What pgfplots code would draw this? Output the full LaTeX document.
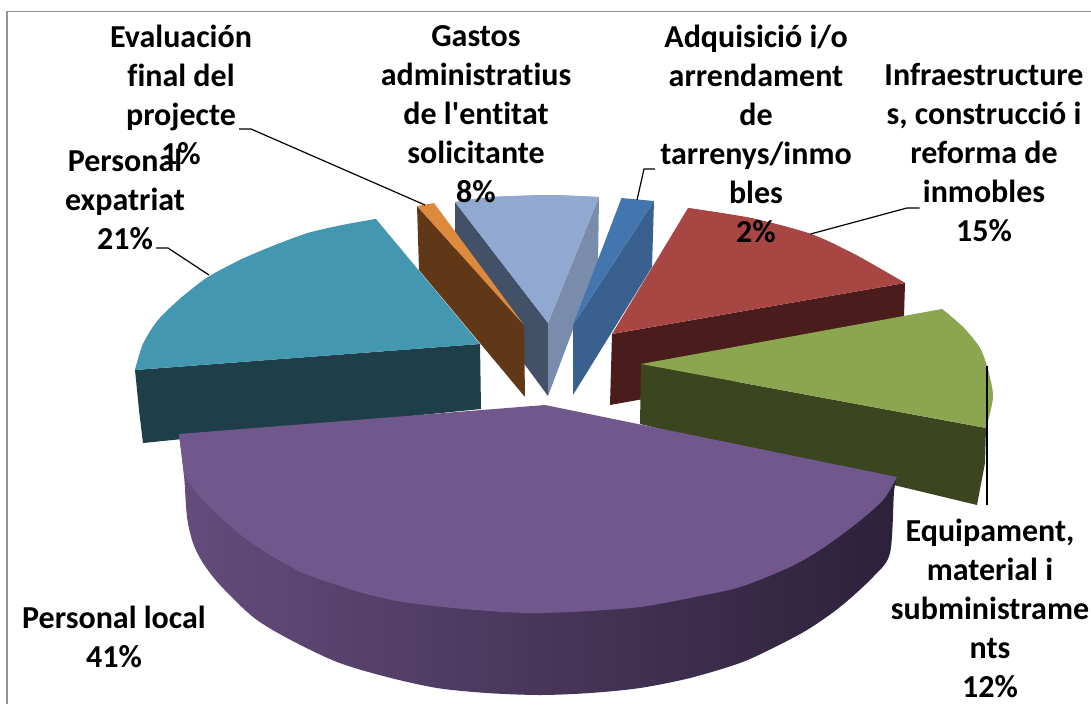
\documentclass[border=0pt]{standalone}
\usepackage{fontspec}
\newfontfamily\lblfont{Carlito}[Ligatures=NoCommon]
\usepackage{pgfplots}
\pgfplotsset{compat=1.18}
\definecolor{tealtop}{HTML}{4397B0}
\definecolor{tealside}{HTML}{1E3E4A}
\definecolor{ortop}{HTML}{DE8A3C}
\definecolor{orside}{HTML}{603817}
\definecolor{gatop}{HTML}{91A8D0}
\definecolor{gadark}{HTML}{425068}
\definecolor{galight}{HTML}{7A8CAC}
\definecolor{bltop}{HTML}{4376AE}
\definecolor{blside}{HTML}{3A6090}
\definecolor{retop}{HTML}{A84644}
\definecolor{reside}{HTML}{4B1C1C}
\definecolor{grtop}{HTML}{8BA64F}
\definecolor{grside}{HTML}{3B451F}
\definecolor{putop}{HTML}{70578C}
\definecolor{puleft}{HTML}{644C7C}
\definecolor{pumid}{HTML}{44325A}
\definecolor{puright}{HTML}{2C2139}
\tikzset{lbl/.style={font=\lblfont\fontsize{32}{39}\selectfont\bfseries,align=center,inner sep=0pt,text=black}}
\begin{document}
\begin{tikzpicture}
\useasboundingbox (0,0) rectangle (1091pt,704pt);
\begin{axis}[scale only axis,width=1091pt,height=704pt,xmin=0,xmax=1091,ymin=0,ymax=704,y dir=reverse,axis lines=none,clip=true]
% chart frame
\addplot[draw=gray!85!white,line width=1.3pt] coordinates {(7,704) (7,11.5) (1091,11.5)};
% Gastos administratius
\addplot[fill=gadark,draw=none] coordinates {(455,202) (548,323) (548,396) (455,270)} -- cycle;
\addplot[fill=galight,draw=none] coordinates {(599,197) (598,263) (548,396) (548,323)} -- cycle;
\addplot[fill=gatop,draw=none] coordinates {(455,202) (491,197) (550,195) (599,197) (548,323)} -- cycle;
\addplot[fill=gatop,draw=none,smooth] coordinates {(455,202) (491,197) (550,195) (599,197)} -- cycle;
% Adquisicio
\addplot[fill=blside,draw=none] coordinates {(654,201) (652,267) (573,395) (573,325)} -- cycle;
\addplot[fill=bltop,draw=none] coordinates {(621.5,198) (654,201) (573,325)} -- cycle;
% Personal expatriat
\addplot[fill=tealside,draw=none] coordinates {(135,370) (480,344) (481,409) (143,443) (139,410)} -- cycle;
\addplot[fill=tealtop,draw=none] coordinates {(376,219) (480,344) (135,370) (143,344) (182,297) (242,259) (308,233)} -- cycle;
\addplot[fill=tealtop,draw=none,smooth] coordinates {(376,219) (342,225) (308,233) (275,245) (242,259) (208,277) (182,297) (158,320) (143,344) (135,370)} -- cycle;
% Evaluacion
\addplot[fill=orside,draw=none] coordinates {(417,206) (524,325) (525,397) (419,270)} -- cycle;
\addplot[fill=ortop,draw=none] coordinates {(417,206) (434,203) (524,325)} -- cycle;
% Infraestructures
\addplot[fill=reside,draw=none] coordinates {(612,334) (905,283) (903,350) (638,400) (610,405)} -- cycle;
\addplot[fill=retop,draw=none] coordinates {(688,208) (751,218) (811,234) (856,255) (905,283) (612,334)} -- cycle;
\addplot[fill=retop,draw=none,smooth] coordinates {(688,208) (751,218) (811,234) (856,255) (905,283)} -- cycle;
% Equipament
\addplot[fill=grside,draw=none] coordinates {(641,364) (986,428) (985,463) (977,505) (640,424)} -- cycle;
\addplot[fill=grtop,draw=none] coordinates {(942,309) (963,327) (980,348) (988,370) (993,397) (986,428) (641,364)} -- cycle;
\addplot[fill=grtop,draw=none,smooth] coordinates {(942,309) (963,327) (980,348) (988,370) (993,397) (986,428)} -- cycle;
% Personal local
\addplot[left color=puleft,middle color=pumid,right color=puright,draw=none,smooth] coordinates {(179,434) (184,475) (187,517) (193,543) (203,563) (220,585) (253,617) (287,638) (337,662) (387,677) (437,688) (487,693) (540,695) (590,693) (640,688) (690,678) (740,663) (773,648) (807,630) (840,607) (873,577) (890,553) (894,492) (897,477)} -- cycle;
\addplot[fill=putop,draw=none] coordinates {(545,405) (897,477) (857,523) (790,567) (690,598) (540,613) (403,602) (303,573) (237,532) (203,500) (184,475) (179,434)} -- cycle;
\addplot[fill=putop,draw=none,smooth] coordinates {(897,477) (883,500) (857,523) (823,548) (790,567) (740,587) (690,598) (640,607) (590,611) (540,613) (503,612) (453,608) (403,602) (370,595) (337,585) (303,573) (270,555) (237,532) (203,500) (184,475)} -- cycle;
% leader lines
\addplot[draw=black,line width=1.2pt] coordinates {(239,129) (251,129) (425,205)};
\addplot[draw=black,line width=1.2pt] coordinates {(156,248) (168,248) (209,275)};
\addplot[draw=black,line width=1.2pt] coordinates {(655,169) (644,169) (637,200)};
\addplot[draw=black,line width=1.2pt] coordinates {(919.5,208) (907,208) (810.5,234)};
\addplot[draw=black,line width=1.2pt] coordinates {(987,366) (987,505)};
% labels
\node[lbl] at (axis cs:181,95) {Evaluación\\final del\\projecte\\1\%};
\node[lbl] at (axis cs:476,114) {Gastos\\administratius\\de l'entitat\\solicitante\\8\%};
\node[lbl] at (axis cs:756,134) {Adquisició i/o\\arrendament\\de\\tarrenys/inmo\\bles\\2\%};
\node[lbl] at (axis cs:984,153) {Infraestructure\\s, construcció i\\reforma de\\inmobles\\15\%};
\node[lbl] at (axis cs:125,199) {Personal\\expatriat\\21\%};
\node[lbl] at (axis cs:114,637) {Personal local\\41\%};
\node[lbl] at (axis cs:990,608) {Equipament,\\material i\\subministrame\\nts\\12\%};
\end{axis}
\end{tikzpicture}
\end{document}
